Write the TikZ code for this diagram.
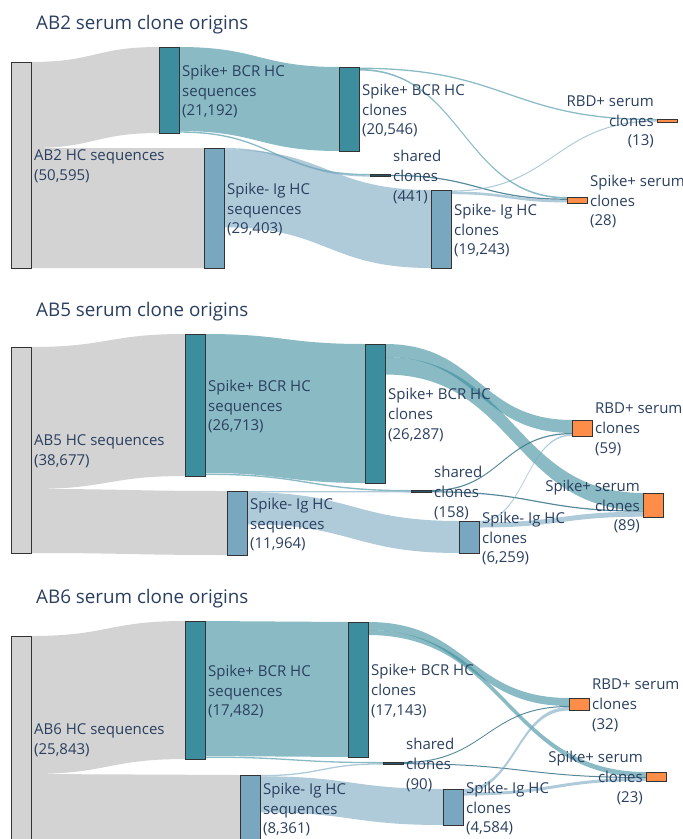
\documentclass[tikz,border=0pt]{standalone}
\usepackage{fontspec}
\setmainfont{Open Sans}
\usetikzlibrary{positioning,calc}

\definecolor{txt}{HTML}{2A3F5F}
\definecolor{lgray}{HTML}{D3D3D3}
\definecolor{teal1}{HTML}{3C8D9D}
\definecolor{steel1}{HTML}{79A7BF}
\definecolor{dark1}{HTML}{2B5468}
\definecolor{dflowc}{HTML}{3A7489}
\definecolor{orng}{HTML}{FD8D49}

\pgfdeclarelayer{bg}
\pgfsetlayers{bg,main}

% band from node #2 (offset #3 from its top) to node #4 (offset #5), width #6
\newcommand{\flow}[6]{%
  \fill[#1] let \p1=(#2.north east), \p2=(#4.north west) in
    (\x1,{\y1-#3pt}) .. controls ({(\x1+\x2)/2},{\y1-#3pt}) and ({(\x1+\x2)/2},{\y2-#5pt}) .. (\x2,{\y2-#5pt})
    -- (\x2,{\y2-#5pt-#6pt}) .. controls ({(\x1+\x2)/2},{\y2-#5pt-#6pt}) and ({(\x1+\x2)/2},{\y1-#3pt-#6pt}) .. (\x1,{\y1-#3pt-#6pt})
    -- cycle;}

\begin{document}
\begin{tikzpicture}[x=1pt,y=-1pt]
        \tikzset{box/.style = {draw=black!80, line width=0.9pt, inner sep=0pt, outer sep=0pt, minimum width=20pt, anchor=north west}}
        \tikzset{lbl/.style = {text=txt, font=\fontsize{15}{19.8}\selectfont, align=left, inner sep=0pt, yshift=-1.5pt}}
        \tikzset{ttl/.style = {text=txt, font=\fontsize{18.8}{22}\selectfont, inner sep=0pt, anchor=base west}}
        \tikzset{gflow/.style = {fill=lgray}}
        \tikzset{tflow/.style = {fill=teal1, fill opacity=0.6}}
        \tikzset{sflow/.style = {fill=steel1, fill opacity=0.6}}
        \tikzset{dflow/.style = {fill=dflowc, fill opacity=0.85}}
        \useasboundingbox (0,0) rectangle (683,839);
        \clip (0,0) rectangle (683,839);
        % titles
        \node[ttl] (t2) at (36,29) {AB2 serum clone origins};
        \node[ttl] (t5) at (36,316) {AB5 serum clone origins};
        \node[ttl] (t6) at (36,603) {AB6 serum clone origins};
        % vertices AB2
        \node[box, fill=lgray, minimum height=206pt] (h2) at (11,62) {};
        \node[box, fill=teal1, minimum height=86pt] (sp2) at (159,47) {};
        \node[box, fill=steel1, minimum height=120pt] (sn2) at (204,148) {};
        \node[box, fill=teal1, minimum height=84pt] (cp2) at (339,67) {};
        \node[box, fill=dark1, minimum height=2.5pt] (sh2) at (370,174) {};
        \node[box, fill=steel1, minimum height=78pt] (cn2) at (431,190) {};
        \node[box, fill=orng, minimum height=3pt] (r2) at (657,119) {};
        \node[box, fill=orng, minimum height=6pt] (p2) at (567,197) {};
        % vertices AB5
        \node[box, fill=lgray, minimum height=206pt] (h5) at (11,347) {};
        \node[box, fill=teal1, minimum height=142pt] (sp5) at (185,334) {};
        \node[box, fill=steel1, minimum height=64pt] (sn5) at (227,491) {};
        \node[box, fill=teal1, minimum height=139pt] (cp5) at (365,344) {};
        \node[box, fill=dark1, minimum height=2.5pt] (sh5) at (411,490) {};
        \node[box, fill=steel1, minimum height=32pt] (cn5) at (459,521) {};
        \node[box, fill=orng, minimum height=16pt] (r5) at (572,420) {};
        \node[box, fill=orng, minimum height=24pt] (p5) at (643,493) {};
        % vertices AB6
        \node[box, fill=lgray, minimum height=206pt] (h6) at (11,636) {};
        \node[box, fill=teal1, minimum height=138pt] (sp6) at (185,621) {};
        \node[box, fill=steel1, minimum height=66pt] (sn6) at (240,775) {};
        \node[box, fill=teal1, minimum height=135pt] (cp6) at (348,622) {};
        \node[box, fill=dark1, minimum height=2.5pt] (sh6) at (383,762) {};
        \node[box, fill=steel1, minimum height=36pt] (cn6) at (443,789) {};
        \node[box, fill=orng, minimum height=12pt] (r6) at (569,698) {};
        \node[box, fill=orng, minimum height=9pt] (p6) at (646,772) {};
        % labels
        \node[lbl, right=3pt of h2] {AB2 HC sequences\\(50,595)};
        \node[lbl, right=3pt of sp2] {Spike+ BCR HC\\sequences\\(21,192)};
        \node[lbl, right=3pt of sn2] {Spike- Ig HC\\sequences\\(29,403)};
        \node[lbl, right=3pt of cp2] {Spike+ BCR HC\\clones\\(20,546)};
        \node[lbl, right=3pt of sh2] {shared\\clones\\(441)};
        \node[lbl, right=3pt of cn2] {Spike- Ig HC\\clones\\(19,243)};
        \node[lbl, align=right, left=3pt of r2] {RBD+ serum\\clones\\(13)};
        \node[lbl, right=3pt of p2] {Spike+ serum\\clones\\(28)};
        \node[lbl, right=3pt of h5] {AB5 HC sequences\\(38,677)};
        \node[lbl, right=3pt of sp5] {Spike+ BCR HC\\sequences\\(26,713)};
        \node[lbl, right=3pt of sn5] {Spike- Ig HC\\sequences\\(11,964)};
        \node[lbl, right=3pt of cp5] {Spike+ BCR HC\\clones\\(26,287)};
        \node[lbl, right=3pt of sh5] {shared\\clones\\(158)};
        \node[lbl, right=3pt of cn5] {Spike- Ig HC\\clones\\(6,259)};
        \node[lbl, right=3pt of r5] {RBD+ serum\\clones\\(59)};
        \node[lbl, align=right, left=3pt of p5] {Spike+ serum\\clones\\(89)};
        \node[lbl, right=3pt of h6] {AB6 HC sequences\\(25,843)};
        \node[lbl, right=3pt of sp6] {Spike+ BCR HC\\sequences\\(17,482)};
        \node[lbl, right=3pt of sn6] {Spike- Ig HC\\sequences\\(8,361)};
        \node[lbl, right=3pt of cp6] {Spike+ BCR HC\\clones\\(17,143)};
        \node[lbl, right=3pt of sh6] {shared\\clones\\(90)};
        \node[lbl, right=3pt of cn6] {Spike- Ig HC\\clones\\(4,584)};
        \node[lbl, right=3pt of r6] {RBD+ serum\\clones\\(32)};
        \node[lbl, align=right, left=3pt of p6] {Spike+ serum\\clones\\(23)};
        %edges
        \begin{pgfonlayer}{bg}
        \flow{gflow}{h2}{0}{sp2}{0}{86}
        \flow{gflow}{h2}{86}{sn2}{0}{120}
        \flow{tflow}{sp2}{0}{cp2}{0}{84}
        \flow{tflow}{sp2}{84.3}{sh2}{0}{1.4}
        \flow{sflow}{sn2}{0}{sh2}{1.3}{1.3}
        \flow{sflow}{sn2}{1.3}{cn2}{0}{78}
        \flow{tflow}{cp2}{0.6}{r2}{0}{1.3}
        \flow{tflow}{cp2}{1.9}{p2}{0}{1.6}
        \flow{dflow}{sh2}{0.8}{p2}{1.6}{1.2}
        \flow{sflow}{cn2}{0.5}{r2}{1.4}{1.1}
        \flow{sflow}{cn2}{1.6}{p2}{2.8}{2.6}
        \flow{gflow}{h5}{0}{sp5}{0}{142}
        \flow{gflow}{h5}{142}{sn5}{0}{64}
        \flow{tflow}{sp5}{0}{cp5}{0}{139}
        \flow{tflow}{sp5}{139.5}{sh5}{0}{1.4}
        \flow{sflow}{sn5}{0}{sh5}{1.2}{1.3}
        \flow{sflow}{sn5}{1.3}{cn5}{0}{32}
        \flow{tflow}{cp5}{0}{r5}{0}{13}
        \flow{tflow}{cp5}{13}{p5}{0}{17.5}
        \flow{dflow}{sh5}{0}{r5}{13}{1.2}
        \flow{dflow}{sh5}{1.2}{p5}{17.5}{1.2}
        \flow{sflow}{cn5}{0}{r5}{14.3}{1.5}
        \flow{sflow}{cn5}{1.5}{p5}{18.7}{5}
        \flow{gflow}{h6}{0}{sp6}{0}{138}
        \flow{gflow}{h6}{138}{sn6}{0}{66}
        \flow{tflow}{sp6}{0}{cp6}{0}{135}
        \flow{tflow}{sp6}{135.5}{sh6}{0}{1.3}
        \flow{sflow}{sn6}{0}{sh6}{1.2}{1.3}
        \flow{sflow}{sn6}{1.3}{cn6}{0}{36}
        \flow{tflow}{cp6}{0}{r6}{0}{8}
        \flow{tflow}{cp6}{8}{p6}{0}{5}
        \flow{dflow}{sh6}{0}{r6}{8}{1}
        \flow{dflow}{sh6}{1.2}{p6}{5}{1}
        \flow{sflow}{cn6}{0}{r6}{9}{3.5}
        \flow{sflow}{cn6}{3.5}{p6}{6}{3}
        \end{pgfonlayer}
\end{tikzpicture}
\end{document}
